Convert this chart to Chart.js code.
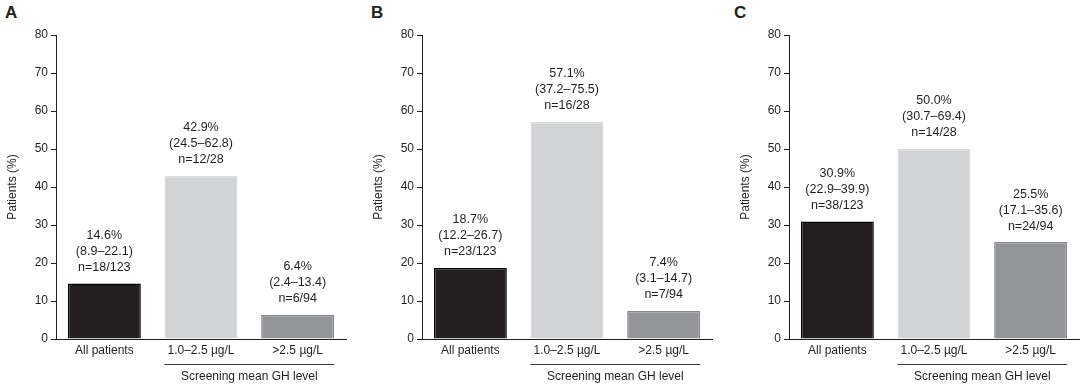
<!DOCTYPE html>
<html>
<head>
<meta charset="utf-8">
<script src="https://cdn.jsdelivr.net/npm/chart.js@4/dist/chart.umd.min.js"></script>
<style>
  body { margin: 0; background: #fff; }
  #wrap { position: relative; width: 1084px; height: 386px; overflow: hidden; }
  .panel { position: absolute; top: 0; width: 351px; height: 386px; }
  .letter { position: absolute; top: 3px; font: bold 17px "Liberation Sans", Arial, sans-serif; color: #231f20; }
</style>
</head>
<body>
<div id="wrap">
  <div class="letter" style="left:5px">A</div>
  <div class="letter" style="left:371px">B</div>
  <div class="letter" style="left:734px">C</div>
  <div class="panel" style="left:0px"><canvas id="chartA" width="351" height="386"></canvas></div>
  <div class="panel" style="left:366px"><canvas id="chartB" width="351" height="386"></canvas></div>
  <div class="panel" style="left:733px"><canvas id="chartC" width="351" height="386"></canvas></div>
</div>
<script>
const categories = ['All patients', '1.0\u20132.5 \u00b5g/L', '>2.5 \u00b5g/L'];
const yTicks = [0, 10, 20, 30, 40, 50, 60, 70, 80];

const valuesA = [14.6, 42.9, 6.4];
const ciA = ['(8.9\u201322.1)', '(24.5\u201362.8)', '(2.4\u201313.4)'];
const nA = ['n=18/123', 'n=12/28', 'n=6/94'];

const valuesB = [18.7, 57.1, 7.4];
const ciB = ['(12.2\u201326.7)', '(37.2\u201375.5)', '(3.1\u201314.7)'];
const nB = ['n=23/123', 'n=16/28', 'n=7/94'];

const valuesC = [30.9, 50.0, 25.5];
const ciC = ['(22.9\u201339.9)', '(30.7\u201369.4)', '(17.1\u201335.6)'];
const nC = ['n=38/123', 'n=14/28', 'n=24/94'];

const groupLabel = 'Screening mean GH level';

const fillColors = ['#231f20', '#d1d3d4', '#939598'];
const edgeColors = ['#000000', '#dcdde0', '#86888b'];
const textColor = '#231f20';
const fontFamily = '"Liberation Sans", Arial, sans-serif';

// labels above bars + bracket under the two GH groups
const annotate = {
    id: 'annotate',
    afterDatasetsDraw(chart) {
        const c = chart.ctx;
        const meta = chart.getDatasetMeta(0);
        const extra = chart.options.plugins.annotate;
        c.save();
        c.fillStyle = textColor;
        c.font = '12.5px ' + fontFamily;
        c.textAlign = 'center';
        c.textBaseline = 'middle';
        meta.data.forEach((bar, i) => {
            const v = chart.data.datasets[0].data[i];
            c.fillText(v.toFixed(1) + '%', bar.x, bar.y - 48);
            c.fillText(extra.ci[i], bar.x, bar.y - 32);
            c.fillText(extra.n[i], bar.x, bar.y - 16);
        });
        const b1 = meta.data[1], b2 = meta.data[2];
        const x0 = b1.x - b1.width / 2;
        const x1 = b2.x + b2.width / 2;
        const y = chart.chartArea.bottom + 25;
        c.strokeStyle = '#3a3a3a';
        c.lineWidth = 1;
        c.beginPath();
        c.moveTo(x0, y + 0.5);
        c.lineTo(x1, y + 0.5);
        c.stroke();
        c.font = '12px ' + fontFamily;
        c.fillText(groupLabel, (x0 + x1) / 2, y + 13);
        c.restore();
    }
};

function makeChart(id, values, ci, n) {
    return new Chart(document.getElementById(id), {
        type: 'bar',
        data: {
            labels: categories,
            datasets: [{
                data: values,
                backgroundColor: fillColors,
                borderColor: edgeColors,
                borderWidth: 1.5,
                categoryPercentage: 1,
                barPercentage: 0.755
            }]
        },
        options: {
            responsive: false,
            animation: false,
            layout: { padding: { left: 0, right: 5, top: 35, bottom: 0 } },
            plugins: {
                legend: { display: false },
                tooltip: { enabled: false },
                annotate: { ci: ci, n: n }
            },
            scales: {
                x: {
                    offset: true,
                    grid: { display: false, drawTicks: false },
                    border: { display: true, color: textColor, width: 1 },
                    ticks: { color: textColor, font: { size: 12, family: fontFamily }, padding: 4 },
                    afterFit: (s) => { s.height = 47; }
                },
                y: {
                    min: 0,
                    max: 80,
                    afterBuildTicks: (s) => { s.ticks = yTicks.map(v => ({ value: v })); },
                    grid: { drawOnChartArea: false, drawTicks: true, tickLength: 5, color: textColor },
                    border: { display: true, color: textColor, width: 1 },
                    ticks: { color: textColor, font: { size: 12, family: fontFamily }, padding: 3 },
                    title: {
                        display: true,
                        text: 'Patients (%)',
                        color: textColor,
                        font: { size: 12, family: fontFamily },
                        padding: { top: 5, bottom: 0 }
                    },
                    afterFit: (s) => { s.width = 56; }
                }
            }
        },
        plugins: [annotate]
    });
}

makeChart('chartA', valuesA, ciA, nA);
makeChart('chartB', valuesB, ciB, nB);
makeChart('chartC', valuesC, ciC, nC);
</script>
</body>
</html>
